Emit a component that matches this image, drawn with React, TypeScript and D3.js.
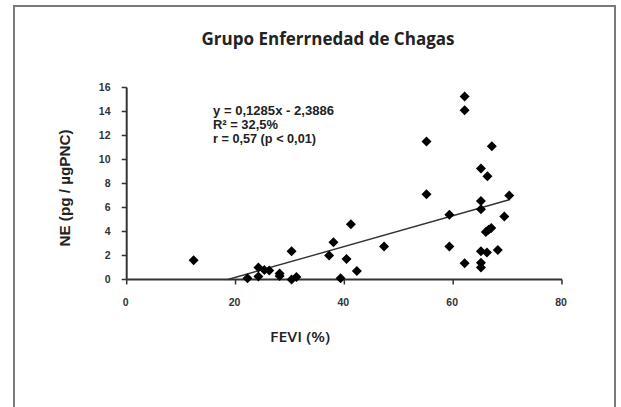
import React from "react";
import * as d3 from "d3";

const fevi = [12.3, 22.2, 24.2, 24.2, 25.3, 26.2, 28.1, 28.1, 30.3, 30.3, 31.2, 37.2, 38.0, 39.3, 40.4, 41.2, 42.3, 47.3, 55.1, 55.1, 59.3, 59.3, 62.1, 62.1, 62.1, 65.1, 65.1, 65.1, 65.1, 65.1, 65.1, 66.3, 66.0, 66.5, 67.0, 66.2, 67.1, 68.2, 69.4, 70.3];
const ne = [1.6, 0.1, 1.0, 0.25, 0.8, 0.75, 0.5, 0.3, 2.35, 0.0, 0.2, 2.0, 3.1, 0.1, 1.7, 4.6, 0.7, 2.75, 11.5, 7.1, 5.4, 2.75, 15.25, 14.1, 1.35, 9.25, 6.55, 5.85, 2.35, 1.4, 1.0, 8.6, 3.95, 4.15, 4.3, 2.25, 11.1, 2.45, 5.25, 7.0];
const xTicks = [0, 20, 40, 60, 80];
const yTicks = [0, 2, 4, 6, 8, 10, 12, 14, 16];
const slope = 0.1285;
const intercept = -2.3886;
const title = "Grupo Enferrnedad de Chagas";
const xLabel = "FEVI (%)";
const yLabel = "NE (pg / µgPNC)";
const equationLines = ["y = 0,1285x - 2,3886", "R² = 32,5%", "r = 0,57 (p < 0,01)"];
const equationWidths = [121, 65, 103];

const squareDiamond = {
  draw(ctx: any, size: number) {
    const r = Math.sqrt(size / 2);
    ctx.moveTo(0, -r);
    ctx.lineTo(r, 0);
    ctx.lineTo(0, r);
    ctx.lineTo(-r, 0);
    ctx.closePath();
  },
};

export default function App() {
  const x = d3.scaleLinear().domain([0, 80]).range([126.7, 562]);
  const y = d3.scaleLinear().domain([0, 16]).range([279.5, 87.5]);
  const x0 = Math.max(-intercept / slope, 0);
  const x1 = d3.max(fevi) as number;
  const line = d3.line<number>().x((d) => x(d)).y((d) => y(slope * d + intercept));
  const diamond = d3.symbol().type(squareDiamond as any).size(50)() as string;
  const tickFont = "'Liberation Sans Narrow', 'Liberation Sans', Arial, sans-serif";
  const boldFont = "'Liberation Sans', Arial, sans-serif";
  return (
    <svg width={621} height={407} style={{ position: "absolute", left: 0, top: 0, background: "#fff" }}>
      <rect x={0} y={0} width={621} height={407} fill="#fff" />
      <path d="M14,420 L14,6 L615,6 L615,420" fill="none" stroke="#7a7a7a" strokeWidth={2} />
      <text x={328} y={45} textAnchor="middle" fontFamily="'Open Sans', sans-serif" fontWeight={700} fontSize={18.5} fill="#222" textLength={253} lengthAdjust="spacingAndGlyphs">{title}</text>
      <line x1={x(0)} x2={x(80)} y1={y(0)} y2={y(0)} stroke="#333" strokeWidth={2} />
      <line x1={x(0)} x2={x(0)} y1={y(0)} y2={y(16)} stroke="#333" strokeWidth={2} />
      {yTicks.map((t) => (
        <g key={"y" + t}>
          <line x1={x(0) - 5} x2={x(0)} y1={y(t)} y2={y(t)} stroke="#333" strokeWidth={1.5} />
          <text x={110.5} y={y(t) + 3.5} textAnchor="end" fontFamily={tickFont} fontWeight={700} fontSize={10.5} fill="#333">{t}</text>
        </g>
      ))}
      {xTicks.map((t) => (
        <g key={"x" + t}>
          <line x1={x(t)} x2={x(t)} y1={y(0)} y2={y(0) + 5} stroke="#333" strokeWidth={1.5} />
          <text x={x(t) - 1} y={305.5} textAnchor="middle" fontFamily={tickFont} fontWeight={700} fontSize={10.5} fill="#333">{t}</text>
        </g>
      ))}
      <text x={300} y={342} textAnchor="middle" fontFamily="'Open Sans', sans-serif" fontWeight={600} fontSize={15} fill="#222" textLength={60} lengthAdjust="spacingAndGlyphs">{xLabel}</text>
      <text transform="translate(70,188) rotate(-90)" textAnchor="middle" fontFamily={boldFont} fontWeight={700} fontSize={14} fill="#222" textLength={117} lengthAdjust="spacingAndGlyphs">{yLabel}</text>
      <path d={line([x0, x1]) as string} fill="none" stroke="#333" strokeWidth={1.4} />
      {fevi.map((v, i) => (
        <path key={i} d={diamond} transform={`translate(${x(v)},${y(ne[i])})`} fill="#000" />
      ))}
      {equationLines.map((s, i) => (
        <text key={s} x={213} y={115 + i * 14} fontFamily={tickFont} fontWeight={700} fontSize={13} fill="#222" textLength={equationWidths[i]} lengthAdjust="spacingAndGlyphs">{s}</text>
      ))}
    </svg>
  );
}
